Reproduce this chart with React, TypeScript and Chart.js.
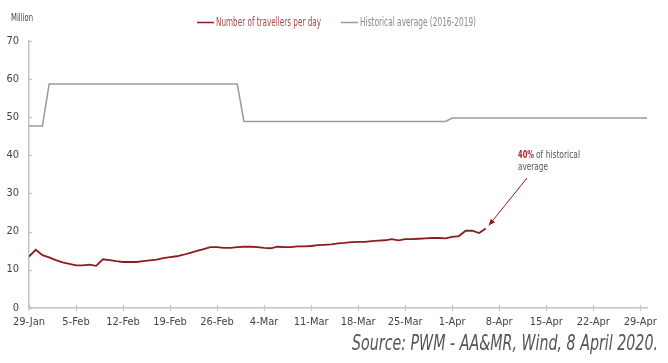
import React, { useEffect, useRef } from "react";
import { Chart, registerables } from "chart.js";

Chart.register(...registerables);

// Day index 0 = 29-Jan-2020
const travellerValues = [
  13.4, 15.2, 13.8, 13.2, 12.5, 11.9, 11.5, 11.1, 11.1, 11.3,
  11.0, 12.7, 12.5, 12.2, 12.0, 12.0, 12.0, 12.2, 12.4, 12.6,
  13.0, 13.3, 13.5, 13.9, 14.4, 14.9, 15.4, 15.9, 15.9, 15.7,
  15.7, 15.9, 16.0, 16.0, 15.9, 15.7, 15.6, 16.0, 15.9, 15.9,
  16.1, 16.1, 16.2, 16.4, 16.5, 16.6, 16.9, 17.0, 17.2, 17.3,
  17.3, 17.5, 17.6, 17.7, 18.0, 17.7, 18.0, 18.0, 18.1, 18.2,
  18.3, 18.3, 18.2, 18.6, 18.8, 20.2, 20.2, 19.6, 20.8,
];

// Historical average (2016-2019): level changes by day index
const histChangeDays = [0, 2, 3, 31, 32, 62, 63, 92];
const histChangeValues = [47.7, 47.7, 58.7, 58.7, 48.9, 48.9, 49.8, 49.8];

const xTickDays = [0, 7, 14, 21, 28, 35, 42, 49, 56, 63, 70, 77, 84, 91];
const xTickLabels = [
  "29-Jan", "5-Feb", "12-Feb", "19-Feb", "26-Feb", "4-Mar", "11-Mar",
  "18-Mar", "25-Mar", "1-Apr", "8-Apr", "15-Apr", "22-Apr", "29-Apr",
];
const yTicks = [0, 10, 20, 30, 40, 50, 60, 70];

const seriesNames = ["Number of travellers per day", "Historical average (2016-2019)"];
const annotationDay = 68;

const FONT = "'Liberation Sans Narrow', 'DejaVu Sans Condensed', 'Roboto', sans-serif";
const RED = "#8e1b1f";
const GRAY = "#9a9a9a";
const AXIS = "#c4c4c4";
const TEXT = "#444444";

const overlay = {
  id: "overlay",
  afterDraw(chart: any) {
    const ctx = chart.ctx as CanvasRenderingContext2D;
    const xs = chart.scales.x;
    const ys = chart.scales.y;
    const area = chart.chartArea;
    ctx.save();
    // tick marks crossing axes
    ctx.strokeStyle = AXIS;
    ctx.lineWidth = 1.2;
    yTicks.forEach((v) => {
      const y = Math.round(ys.getPixelForValue(v)) + 0.5;
      ctx.beginPath();
      ctx.moveTo(area.left - 1, y);
      ctx.lineTo(area.left + 3, y);
      ctx.stroke();
    });
    xTickDays.forEach((d) => {
      const x = Math.round(xs.getPixelForValue(d)) + 0.5;
      ctx.beginPath();
      ctx.moveTo(x, area.bottom - 3);
      ctx.lineTo(x, area.bottom + 3);
      ctx.stroke();
    });

    // "Million"
    ctx.fillStyle = TEXT;
    ctx.textBaseline = "middle";
    ctx.textAlign = "left";
    ctx.font = `10.5px ${FONT}`;
    ctx.fillText("Million", 11, 18, 22);

    // legend
    ctx.lineWidth = 1.5;
    ctx.strokeStyle = RED;
    ctx.beginPath();
    ctx.moveTo(197, 22.5);
    ctx.lineTo(214, 22.5);
    ctx.stroke();
    ctx.font = `12px ${FONT}`;
    ctx.fillStyle = "#a04a4c";
    ctx.fillText(seriesNames[0], 216, 22.5, 105);
    ctx.strokeStyle = GRAY;
    ctx.beginPath();
    ctx.moveTo(341, 22.5);
    ctx.lineTo(358, 22.5);
    ctx.stroke();
    ctx.fillStyle = "#8a8a8a";
    ctx.fillText(seriesNames[1], 360, 22.5, 116);

    // annotation
    ctx.font = `bold 11px ${FONT}`;
    ctx.fillStyle = "#b3262b";
    ctx.fillText("40%", 518, 155.5, 16);
    ctx.font = `11px ${FONT}`;
    ctx.fillStyle = "#555555";
    ctx.fillText("of historical", 536, 155.5, 44);
    ctx.fillText("average", 518, 167.5, 30);

    // arrow
    const tipX = xs.getPixelForValue(annotationDay) + 3;
    const tipY = ys.getPixelForValue(travellerValues[annotationDay]) - 3;
    const tailX = 527;
    const tailY = 178;
    ctx.strokeStyle = RED;
    ctx.fillStyle = RED;
    ctx.lineWidth = 1;
    ctx.beginPath();
    ctx.moveTo(tailX, tailY);
    ctx.lineTo(tipX, tipY);
    ctx.stroke();
    const ang = Math.atan2(tipY - tailY, tipX - tailX);
    const len = 7;
    ctx.beginPath();
    ctx.moveTo(tipX, tipY);
    ctx.lineTo(tipX - len * Math.cos(ang - 0.4), tipY - len * Math.sin(ang - 0.4));
    ctx.lineTo(tipX - len * Math.cos(ang + 0.4), tipY - len * Math.sin(ang + 0.4));
    ctx.closePath();
    ctx.fill();

    // source
    ctx.font = `italic 21px ${FONT}`;
    ctx.fillStyle = "#555555";
    ctx.textAlign = "right";
    ctx.fillText("Source: PWM - AA&MR, Wind, 8 April 2020.", 658, 345, 306);
    ctx.restore();
  },
};

export default function App() {
  const ref = useRef<HTMLCanvasElement | null>(null);
  useEffect(() => {
    if (!ref.current) return;
    const travellerData = travellerValues.map((v, i) => ({ x: i, y: v }));
    const histData = histChangeDays.map((d, i) => ({ x: d, y: histChangeValues[i] }));
    const chart = new Chart(ref.current, {
      type: "line",
      data: {
        datasets: [
          {
            label: seriesNames[0],
            data: travellerData,
            borderColor: RED,
            borderWidth: 1.8,
            pointRadius: 0,
            tension: 0,
          },
          {
            label: seriesNames[1],
            data: histData,
            borderColor: GRAY,
            borderWidth: 1.5,
            pointRadius: 0,
            tension: 0,
          },
        ],
      },
      options: {
        responsive: false,
        animation: false,
        layout: { padding: { left: 0, top: 41, right: 21, bottom: 0 } },
        plugins: { legend: { display: false }, tooltip: { enabled: false } },
        scales: {
          x: {
            type: "linear",
            min: 0,
            max: 92,
            afterBuildTicks: (s: any) => {
              s.ticks = xTickDays.map((v) => ({ value: v }));
            },
            afterFit: (s: any) => {
              s.height = 55.3;
            },
            grid: { display: true, drawOnChartArea: false, drawTicks: false },
            border: { color: AXIS, width: 1.5 },
            ticks: {
              padding: 8,
              color: TEXT,
              font: { family: FONT, size: 11 },
              maxRotation: 0,
              autoSkip: false,
              callback: (v: any) => {
                const i = xTickDays.indexOf(Number(v));
                return i >= 0 ? xTickLabels[i] : "";
              },
            },
          },
          y: {
            min: 0,
            max: 70,
            afterBuildTicks: (s: any) => {
              s.ticks = yTicks.map((v) => ({ value: v }));
            },
            afterFit: (s: any) => {
              s.width = 29;
            },
            grid: { display: true, drawOnChartArea: false, drawTicks: false },
            border: { color: AXIS, width: 1.5 },
            ticks: {
              padding: 10,
              color: TEXT,
              font: { family: FONT, size: 11 },
            },
          },
        },
      },
      plugins: [overlay],
    } as any);
    return () => chart.destroy();
  }, []);
  return (
    <div style={{ position: "fixed", left: 0, top: 0, width: 668, height: 363, background: "#fff" }}>
      <canvas ref={ref} width={668} height={363} style={{ width: 668, height: 363, display: "block" }} />
    </div>
  );
}
